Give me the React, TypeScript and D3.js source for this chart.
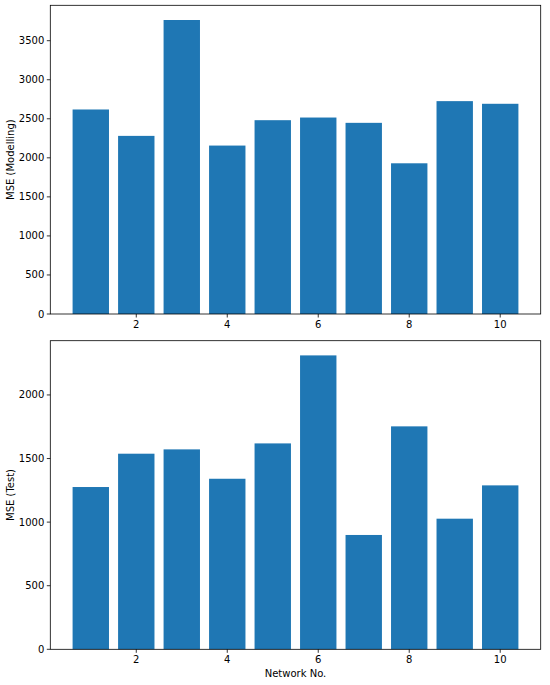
import React from 'react';
import * as d3 from 'd3';

// Network numbers and MSE values
const networks = [1, 2, 3, 4, 5, 6, 7, 8, 9, 10];
const mseModelling = [2619, 2281, 3765, 2157, 2482, 2516, 2448, 1930, 2726, 2692];
const mseTest = [1276, 1538, 1572, 1341, 1619, 2311, 899, 1753, 1027, 1289];
const xTicks = [2, 4, 6, 8, 10];
const modellingTicks = [0, 500, 1000, 1500, 2000, 2500, 3000, 3500];
const testTicks = [0, 500, 1000, 1500, 2000];

const WIDTH = 550;
const HEIGHT = 685;
const BAR_COLOR = '#1f77b4';
const FONT = '"DejaVu Sans", sans-serif';

interface PanelProps {
  values: number[];
  yTicks: number[];
  yLabel: string;
  top: number;
  bottom: number;
}

const left = 50.3;
const right = 540.7;

const Panel: React.FC<PanelProps> = ({ values, yTicks, yLabel, top, bottom }) => {
  const barWidth = 0.8;
  const lo = 1 - barWidth / 2;
  const hi = 10 + barWidth / 2;
  const pad = (hi - lo) * 0.05;

  const x = d3.scaleLinear().domain([lo - pad, hi + pad]).range([left, right]);
  const y = d3.scaleLinear()
    .domain([0, (d3.max(values) || 0) * 1.05])
    .range([bottom, top]);

  return (
    <g>
      {values.map((v, i) => (
        <rect
          key={i}
          x={x(networks[i] - barWidth / 2)}
          y={y(v)}
          width={x(networks[i] + barWidth / 2) - x(networks[i] - barWidth / 2)}
          height={y(0) - y(v)}
          fill={BAR_COLOR}
        />
      ))}
      {/* spines */}
      <rect x={left} y={top} width={right - left} height={bottom - top}
        fill="none" stroke="#000" strokeWidth={0.8} />
      {/* x ticks */}
      {xTicks.map(t => (
        <g key={t} transform={`translate(${x(t)},${bottom})`}>
          <line y1={0} y2={3.5} stroke="#000" strokeWidth={0.8} />
          <text y={14} textAnchor="middle" fontSize={10} fontFamily={FONT} fill="#000">{t}</text>
        </g>
      ))}
      {/* y ticks */}
      {yTicks.map(t => (
        <g key={t} transform={`translate(${left},${y(t)})`}>
          <line x1={0} x2={-3.5} stroke="#000" strokeWidth={0.8} />
          <text x={-6} dy="0.35em" textAnchor="end" fontSize={10} fontFamily={FONT} fill="#000">{t}</text>
        </g>
      ))}
      <text
        transform={`translate(14,${(top + bottom) / 2}) rotate(-90)`}
        textAnchor="middle"
        fontSize={10}
        fontFamily={FONT}
        fill="#000"
      >
        {yLabel}
      </text>
    </g>
  );
};

export default function App() {
  const xMid = (left + right) / 2;
  return (
    <svg width={WIDTH} height={HEIGHT} style={{ position: 'absolute', left: 0, top: 0, background: '#fff' }}>
      <rect width={WIDTH} height={HEIGHT} fill="#fff" />
      <Panel values={mseModelling} yTicks={modellingTicks} yLabel="MSE (Modelling)" top={5.3} bottom={314} />
      <Panel values={mseTest} yTicks={testTicks} yLabel="MSE (Test)" top={340.7} bottom={649.3} />
      <text x={xMid} y={677} textAnchor="middle" fontSize={10} fontFamily={FONT} fill="#000">
        Network No.
      </text>
    </svg>
  );
}
